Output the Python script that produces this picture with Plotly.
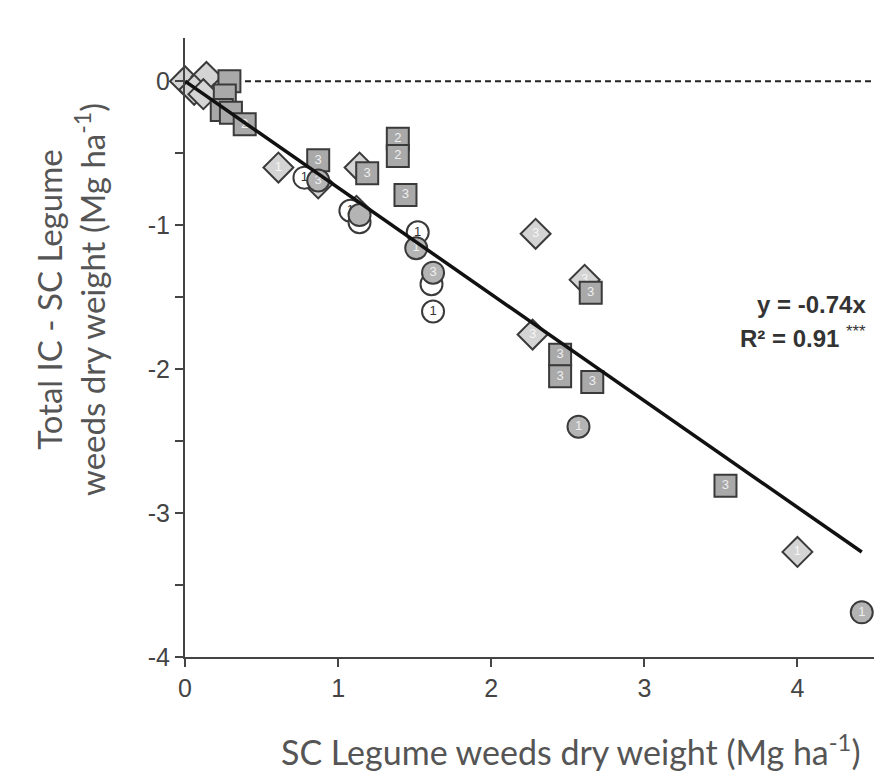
import plotly.graph_objects as go

# ---- data ----
diamond_x = [0.0, 0.14, 0.06, 0.12, 0.61, 0.87, 1.14, 1.12, 2.29, 2.61, 2.27, 4.00]
diamond_y = [0.0, 0.03, -0.06, -0.09, -0.60, -0.71, -0.60, -0.90, -1.06, -1.38, -1.76, -3.27]
diamond_lbl = ["", "", "", "", "1", "", "1", "", "3", "3", "3", "1"]

square_x = [0.29, 0.26, 0.24, 0.30, 0.39, 0.87, 1.19, 1.39, 1.39, 1.44, 2.65, 2.45, 2.45, 2.66, 3.53]
square_y = [0.0, -0.10, -0.20, -0.22, -0.30, -0.55, -0.64, -0.40, -0.52, -0.79, -1.47, -1.90, -2.05, -2.09, -2.81]
square_lbl = ["", "", "", "", "2", "3", "3", "2", "2", "3", "3", "3", "3", "3", "3"]

open_circle_x = [0.78, 1.08, 1.14, 1.52, 1.61, 1.62]
open_circle_y = [-0.67, -0.90, -0.98, -1.05, -1.41, -1.60]
open_circle_lbl = ["1", "1", "1", "1", "", "1"]

gray_circle_x = [0.87, 1.14, 1.51, 1.62, 2.57, 4.42]
gray_circle_y = [-0.69, -0.93, -1.16, -1.33, -2.40, -3.69]
gray_circle_lbl = ["3", "", "1", "3", "1", "1"]

slope = -0.74
fit_x = [0.0, 4.42]
fit_y = [slope * v for v in fit_x]

x_ticks = [0, 1, 2, 3, 4]
y_ticks = [0, -1, -2, -3, -4]

edge = "#3a3a3a"
fig = go.Figure()

# dashed zero line
fig.add_trace(go.Scatter(x=[0, 4.5], y=[0, 0], mode="lines",
                         line=dict(color="#222", width=2, dash="6px,4px"),
                         hoverinfo="skip", showlegend=False))

def add_pts(xs, ys, lbls, symbol, fill, txtcol, size):
    fig.add_trace(go.Scatter(
        x=xs, y=ys, mode="markers+text", text=lbls,
        textposition="middle center",
        textfont=dict(family="Liberation Sans", size=13, color=txtcol),
        marker=dict(symbol=symbol, size=size, color=fill,
                    line=dict(color=edge, width=2)),
        cliponaxis=False, showlegend=False))

add_pts(diamond_x, diamond_y, diamond_lbl, "diamond", "#d4d4d4", "#f4f4f4", 23)
add_pts(square_x, square_y, square_lbl, "square", "#a9a9a9", "#eeeeee", 22)
add_pts(open_circle_x, open_circle_y, open_circle_lbl, "circle", "#ffffff", "#333333", 22)
add_pts(gray_circle_x, gray_circle_y, gray_circle_lbl, "circle", "#b4b4b4", "#eeeeee", 22)

# regression line
fig.add_trace(go.Scatter(x=fit_x, y=fit_y, mode="lines",
                         line=dict(color="#111", width=3.5),
                         hoverinfo="skip", showlegend=False, cliponaxis=False))

fig.add_annotation(x=4.46, y=-1.66, xref="x", yref="y", xanchor="right", yanchor="bottom",
                   text="<b>y = -0.74x</b>", showarrow=False,
                   font=dict(family="Liberation Sans", size=24, color="#333"))
fig.add_annotation(x=4.46, y=-1.66, xref="x", yref="y", xanchor="right", yanchor="top",
                   text="<b>R² = 0.91</b> <sup>***</sup>", showarrow=False,
                   font=dict(family="Liberation Sans", size=24, color="#333"))

# axis titles (placed as annotations to match reference offsets)
fig.add_annotation(x=2.52, y=0, xref="x", yref="paper", xanchor="center", yanchor="middle",
                   yshift=-93, showarrow=False,
                   text="SC Legume weeds dry weight (Mg ha<sup>-1</sup>)",
                   font=dict(family="Lato", size=34, color="#555"))
fig.add_annotation(x=0, y=-1.52, xref="paper", yref="y", xanchor="center", yanchor="middle",
                   xshift=-115, showarrow=False, textangle=-90,
                   text="Total IC - SC Legume<br>weeds dry weight (Mg ha<sup>-1</sup>)",
                   font=dict(family="Lato", size=33, color="#555"))

fig.update_layout(
    width=894, height=776,
    margin=dict(l=177, r=28, t=30, b=127),
    paper_bgcolor="white", plot_bgcolor="white",
    xaxis=dict(range=[0, 4.5], tickvals=x_ticks, ticktext=[str(v) for v in x_ticks],
               showline=True, linecolor="#444", linewidth=2,
               ticks="outside", ticklen=8, tickwidth=2, tickcolor="#444",
               showgrid=False, zeroline=False,
               tickfont=dict(family="Liberation Sans", size=25, color="#444")),
    yaxis=dict(range=[-4, 0.3], tickvals=y_ticks, ticktext=[str(v) for v in y_ticks],
               showline=True, linecolor="#444", linewidth=2,
               ticks="outside", ticklen=8, tickwidth=2, tickcolor="#444",
               minor=dict(dtick=0.5, ticks="outside", ticklen=8, tickwidth=2, tickcolor="#444", showgrid=False),
               showgrid=False, zeroline=False,
               tickfont=dict(family="Liberation Sans", size=25, color="#444")),
)

fig.write_html("out.html")
